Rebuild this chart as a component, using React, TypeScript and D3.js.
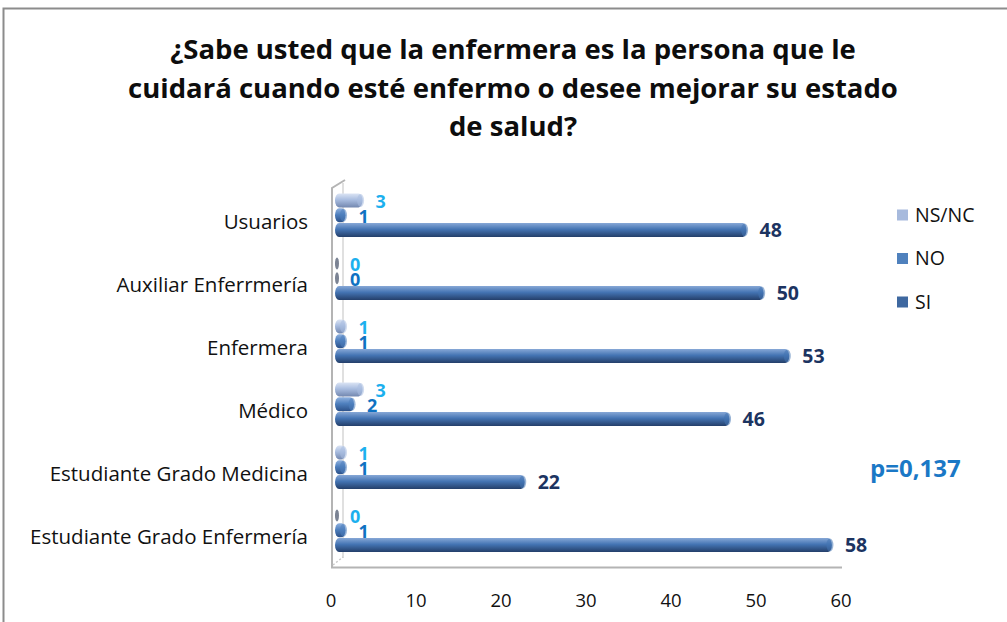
import * as d3 from 'd3';

const categories = [
  'Usuarios',
  'Auxiliar Enferrmería',
  'Enfermera',
  'Médico',
  'Estudiante Grado Medicina',
  'Estudiante Grado Enfermería',
];
const seriesNames = ['NS/NC', 'NO', 'SI'];
const siValues = [48, 50, 53, 46, 22, 58];
const noValues = [1, 0, 1, 2, 1, 1];
const nsncValues = [3, 0, 1, 3, 1, 0];
const xTicks = [0, 10, 20, 30, 40, 50, 60];
const titleLines = [
  '¿Sabe usted que la enfermera es la persona que le',
  'cuidará cuando esté enfermo o desee mejorar su estado',
  'de salud?',
];
const pValue = 'p=0,137';

const W = 1007, H = 622;
const font = '"Open Sans", Lato, sans-serif';

// colour sets for each series: top, mid, bottom of the cylinder gradient
const styles: Record<string, { top: string; mid: string; bot: string; legend: string; label: string }> = {
  'NS/NC': { top: '#dbe4f4', mid: '#a9bde0', bot: '#7388b0', legend: '#a7badd', label: '#1cb0ee' },
  NO: { top: '#8fb1df', mid: '#4f80be', bot: '#2c5189', legend: '#4f81bd', label: '#0f72c2' },
  SI: { top: '#86a7d6', mid: '#4474b3', bot: '#243f6a', legend: '#3e68a0', label: '#1c3461' },
};

export default function App() {
  const x = d3.scaleLinear().domain([0, 60]).range([337, 849]);
  const xAxis = d3.scaleLinear().domain([0, 60]).range([331, 841]);
  const y = d3.scaleBand<string>().domain(categories).range([190.5, 568.5]);
  const inner = d3.scaleBand<string>().domain(seriesNames).range([-28.5, 15]).paddingInner(0.06);

  const valuesBy: Record<string, number[]> = { 'NS/NC': nsncValues, NO: noValues, SI: siValues };

  return (
    <svg width={W} height={H} style={{ position: 'absolute', left: 0, top: 0, background: '#fff' }}>
      <defs>
        {seriesNames.map((s, i) => (
          <linearGradient key={s} id={`g${i}`} x1="0" y1="0" x2="0" y2="1">
            <stop offset="0" stopColor={styles[s].top} />
            <stop offset="0.45" stopColor={styles[s].mid} />
            <stop offset="1" stopColor={styles[s].bot} />
          </linearGradient>
        ))}
      </defs>
      <rect x={3.5} y={8.5} width={W + 10} height={H + 10} fill="#fff" stroke="#8c8c8c" strokeWidth={2} />

      {/* title */}
      {titleLines.map((t, i) => (
        <text key={i} x={513} y={59 + i * 38.5} textAnchor="middle" fontFamily={font}
          fontWeight={700} fontSize={27.5} fill="#0d0d0d">{t}</text>
      ))}

      {/* 3d walls */}
      <g fill="none" stroke="#b4b4b4" strokeWidth={2}>
        <path d={`M${xAxis(0) + 1},567V188L345,180`} />
        <path d={`M343,183V558`} stroke="#d6d6d6" strokeWidth={1.5} />
        <path d={`M${xAxis(0)},567.5H${xAxis(60) + 1}`} />
        <path d="M333,565L343,557" stroke="#c8c8c8" strokeDasharray="2,2" strokeWidth={1.5} />
      </g>

      {/* bars */}
      {categories.map((c, ci) => {
        const cy = (y(c) ?? 0) + y.bandwidth() / 2;
        return (
          <g key={c}>
            {seriesNames.map((s, si) => {
              const v = valuesBy[s][ci];
              const by = cy + (inner(s) ?? 0);
              const bh = inner.bandwidth();
              const x0 = x(0), x1 = x(v);
              const bar = v > 0 ? (
                <g>
                  <rect x={x0 - 2} y={by} width={x1 - x0 + 2} height={bh} rx={4} ry={bh / 2} fill={`url(#g${si})`} />
                  <ellipse cx={x1 - 2} cy={by + bh / 2} rx={3.5} ry={bh / 2 - 0.5} fill={styles[s].mid} opacity={0.55} />
                </g>
              ) : (
                <ellipse cx={x0} cy={by + bh / 2} rx={2} ry={bh / 2 - 1} fill="#5a6478" opacity={0.8} />
              );
              const big = s === 'SI';
              return (
                <g key={s}>
                  {bar}
                  <text x={x1 + 13} y={by + bh / 2 + (big ? 7 : 7.5)} fontFamily={font} fontWeight={700}
                    fontSize={big ? 19.5 : 18} fill={styles[s].label}>{v}</text>
                </g>
              );
            })}
            <text x={308} y={cy + 6.5} textAnchor="end" fontFamily={font} fontSize={20.5} fill="#111">{c}</text>
          </g>
        );
      })}

      {/* x axis labels */}
      {xTicks.map((t) => (
        <text key={t} x={xAxis(t)} y={607} textAnchor="middle" fontFamily={font} fontSize={18.5} fill="#111">{t}</text>
      ))}

      {/* legend */}
      {seriesNames.map((s, i) => (
        <g key={s} transform={`translate(897,${215 + i * 43.5})`}>
          <rect x={0} y={-5.5} width={11} height={11} fill={styles[s].legend} />
          <text x={18} y={6.5} fontFamily={font} fontSize={19.5} fill="#111">{s}</text>
        </g>
      ))}

      <text x={870} y={477} fontFamily={font} fontWeight={700} fontSize={24} fill="#1a78c6">{pValue}</text>
    </svg>
  );
}
